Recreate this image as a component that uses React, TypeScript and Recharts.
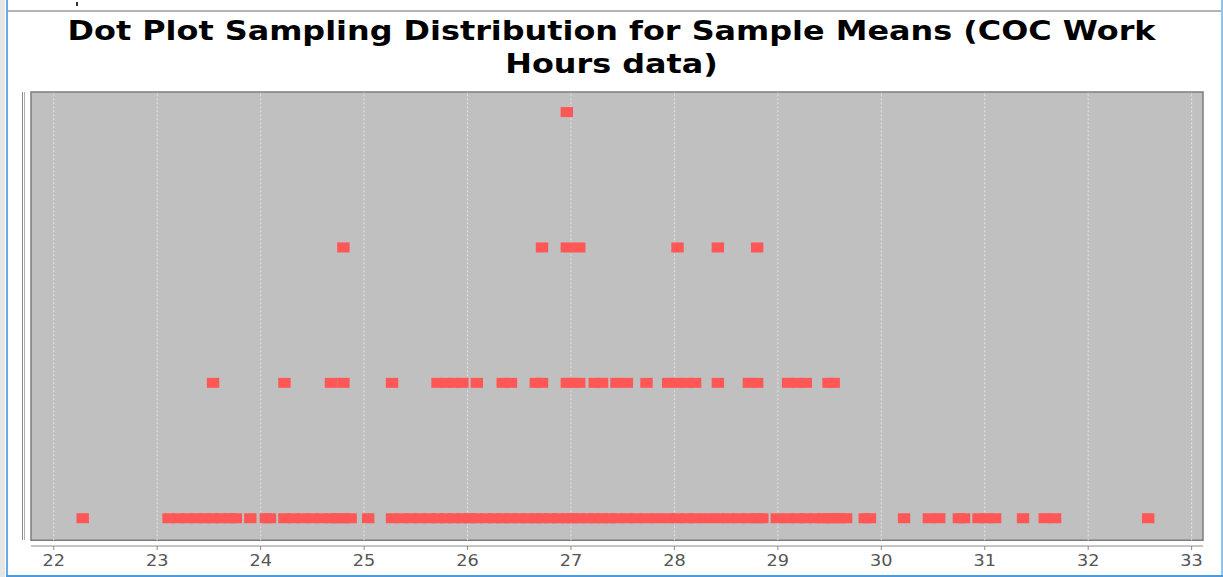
import { ReferenceArea, ReferenceLine, Scatter, ScatterChart, XAxis, YAxis } from "recharts";

// sample means per stack level
const level1 = [
  22.28,
  23.11, 23.2, 23.29, 23.38, 23.46, 23.54, 23.62, 23.7, 23.76,
  23.9,
  24.05, 24.09,
  24.23, 24.32, 24.41, 24.5, 24.59, 24.68, 24.74, 24.8, 24.87,
  25.04,
  25.27, 25.36, 25.45, 25.54, 25.63, 25.71, 25.79, 25.87, 25.95, 26.02,
  26.09, 26.18, 26.26, 26.34, 26.42, 26.5, 26.58, 26.66, 26.72, 26.8,
  26.88, 26.96, 27.02, 27.08, 27.16, 27.23, 27.3, 27.37, 27.44, 27.54,
  27.63, 27.73, 27.83, 27.94, 28.03, 28.12, 28.2, 28.31, 28.42, 28.52,
  28.62, 28.72, 28.8, 28.85,
  28.99, 29.1, 29.19, 29.27, 29.36, 29.44, 29.49, 29.54, 29.6, 29.66,
  29.84, 29.89,
  30.22,
  30.46, 30.56,
  30.75, 30.8,
  30.94, 31.02, 31.1,
  31.37,
  31.58, 31.68,
  32.58,
];
const level2 = [
  23.54, 24.23, 24.68, 24.8, 25.27, 25.71, 25.79, 25.87, 25.95, 26.09,
  26.34, 26.42, 26.66, 26.72, 26.96, 27.02, 27.08, 27.23, 27.3, 27.44,
  27.54, 27.73, 27.94, 28.03, 28.12, 28.2, 28.42, 28.72, 28.8, 29.1,
  29.19, 29.27, 29.49, 29.54,
];
const level3 = [24.8, 26.72, 26.96, 27.08, 28.03, 28.42, 28.8];
const level4 = [26.96];

const xTicks = [22, 23, 24, 25, 26, 27, 28, 29, 30, 31, 32, 33];

const points = [level1, level2, level3, level4].flatMap((row, i) =>
  row.map((x) => ({ x, y: i + 1 }))
);

const X_MIN = 21.78;
const X_MAX = 33.11;
const Y_MIN = 0.795;
const Y_MAX = 4.148;
const Y_PLOT_BOTTOM = 0.837;

const Block = (props: any) => {
  const { cx, cy } = props;
  if (cx == null || cy == null) return null;
  return <rect x={cx - 6.2} y={cy - 5} width={12.4} height={10} fill="#ff5656" />;
};

const Tick = (props: any) => {
  const { x, y, payload } = props;
  return (
    <text
      x={x}
      y={y + 13}
      textAnchor="middle"
      fill="#555"
      fontSize={15}
      fontFamily="'DejaVu Sans', sans-serif"
      transform={`translate(${x} 0) scale(1.18 1) translate(${-x} 0)`}
    >
      {payload.value}
    </text>
  );
};

export default function App() {
  return (
    <div
      style={{
        position: "absolute",
        left: 0,
        top: 0,
        width: 1223,
        height: 577,
        background: "#fff",
        fontFamily: "'DejaVu Sans', sans-serif",
        overflow: "hidden",
      }}
    >
      {/* window frame bits */}
      <div style={{ position: "absolute", left: 0, top: 0, width: 5, height: 577, background: "#e6e6e6" }} />
      <div style={{ position: "absolute", left: 6, top: 0, width: 2, height: 577, background: "#6aaae6" }} />
      <div style={{ position: "absolute", left: 1221, top: 0, width: 2, height: 577, background: "#8cc4f2" }} />
      <div style={{ position: "absolute", left: 6, top: 575, width: 1217, height: 2, background: "#4a9ae0" }} />
      <div style={{ position: "absolute", left: 8, top: 10, width: 1213, height: 2, background: "#b4b4b4" }} />
      <div style={{ position: "absolute", left: 76, top: 2, width: 2, height: 4, background: "#333" }} />

      <div
        style={{
          position: "absolute",
          left: 0,
          top: 14,
          width: 1223,
          textAlign: "center",
          fontWeight: "bold",
          fontSize: 27,
          lineHeight: "33px",
          color: "#000",
          transform: "scaleX(1.18)",
          transformOrigin: "611px 0",
        }}
      >
        Dot Plot Sampling Distribution for Sample Means (COC Work
        <br />
        Hours data)
      </div>

      {/* left range axis line */}
      <div
        style={{
          position: "absolute",
          left: 22,
          top: 92,
          width: 1,
          height: 448,
          borderLeft: "1px solid #8a8a8a",
          borderRight: "1px solid #b0b0b0",
        }}
      />

      <div style={{ position: "absolute", left: 0, top: 0 }}>
        <ScatterChart width={1223} height={577} margin={{ top: 92, right: 20, bottom: 0, left: 31 }}>
          <XAxis
            type="number"
            dataKey="x"
            domain={[X_MIN, X_MAX]}
            ticks={xTicks}
            allowDataOverflow
            height={31}
            stroke="#8a8a8a"
            tickSize={4}
            tickMargin={3}
            tick={<Tick />}
          />
          <YAxis type="number" dataKey="y" domain={[Y_MIN, Y_MAX]} allowDataOverflow hide />
          <ReferenceArea
            x1={X_MIN}
            x2={X_MAX}
            y1={Y_PLOT_BOTTOM}
            y2={Y_MAX}
            fill="#c0c0c0"
            fillOpacity={1}
            stroke="#7c7c7c"
            strokeWidth={1.5}
          />
          {xTicks.map((t) => (
            <ReferenceLine
              key={t}
              segment={[
                { x: t, y: Y_PLOT_BOTTOM },
                { x: t, y: Y_MAX },
              ]}
              stroke="#e4e4e4"
              strokeDasharray="2 2"
            />
          ))}
          <Scatter data={points} shape={Block} isAnimationActive={false} />
        </ScatterChart>
      </div>
    </div>
  );
}
